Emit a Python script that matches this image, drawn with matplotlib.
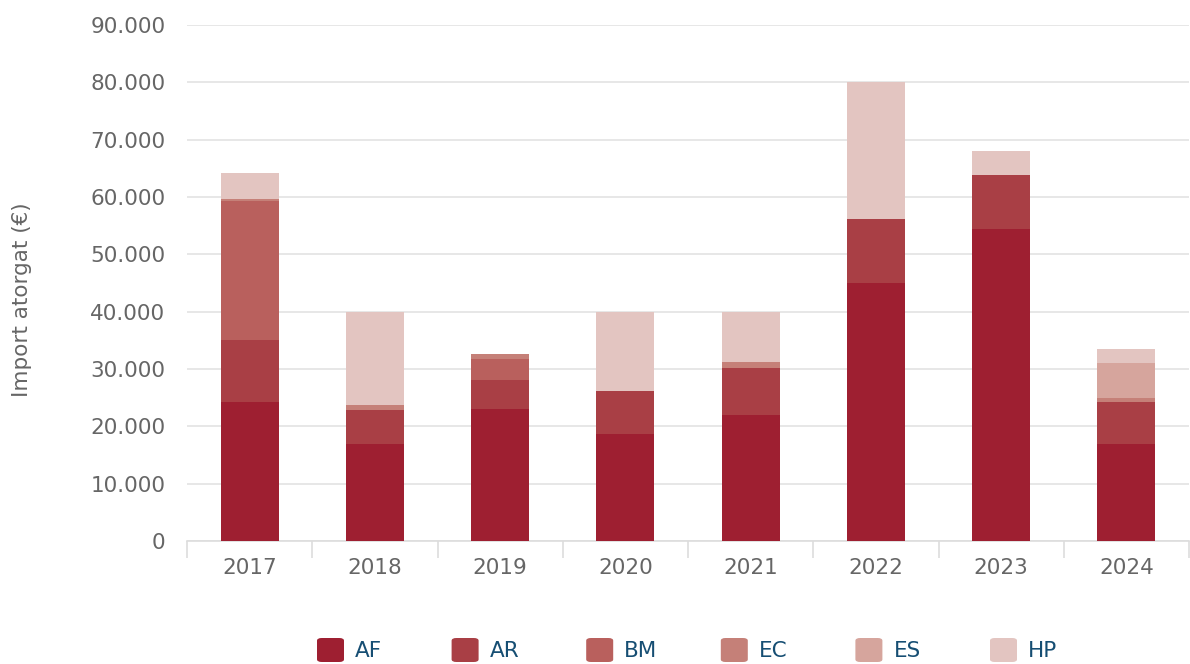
import matplotlib
matplotlib.use('Agg')
import matplotlib.pyplot as plt
from matplotlib.patches import FancyBboxPatch
from matplotlib.ticker import FuncFormatter
import numpy as np

# dades
anys = ['2017', '2018', '2019', '2020', '2021', '2022', '2023', '2024']
series = ['AF', 'AR', 'BM', 'EC', 'ES', 'HP']
AF = [24200, 17000, 23000, 18700, 22000, 45000, 54400, 16900]
AR = [10800, 5800, 5100, 7500, 8200, 11200, 9400, 7300]
BM = [24300, 0, 3700, 0, 0, 0, 0, 0]
EC = [400, 1000, 800, 0, 1000, 0, 0, 700]
ES = [0, 0, 0, 0, 0, 0, 0, 6100]
HP = [4500, 16200, 0, 13800, 8800, 23800, 4200, 2500]
colors = ['#9e1f31', '#a93f45', '#b9605d', '#c58078', '#d6a59d', '#e3c5c1']

plt.rcParams['font.family'] = ['DejaVu Sans']
fig = plt.figure(figsize=(11.9, 6.64), dpi=100)
ax = fig.add_axes([187 / 1190, 123 / 664, 1002 / 1190, 516 / 664])

x = np.arange(len(anys))
bottom = np.zeros(len(anys))
for name, vals, c in zip(series, [AF, AR, BM, EC, ES, HP], colors):
    ax.bar(x, vals, width=0.465, bottom=bottom, color=c, zorder=3, linewidth=0)
    bottom += np.array(vals)

ax.set_xlim(-0.5, len(anys) - 0.5)
ax.set_ylim(0, 90000)
ax.set_yticks(np.arange(0, 90001, 10000))
ax.yaxis.set_major_formatter(FuncFormatter(lambda v, p: f'{int(v):,}'.replace(',', '.')))
ax.grid(axis='y', color='#e3e3e3', linewidth=1.2, zorder=0)
ax.tick_params(axis='y', length=0, pad=15.5, labelsize=15.5, labelcolor='#666666')

ax.set_xticks(x)
ax.set_xticklabels(anys)
ax.set_xticks(np.arange(-0.5, len(anys)), minor=True)
ax.tick_params(axis='x', which='major', length=0, pad=12, labelsize=15.5, labelcolor='#666666')
ax.tick_params(axis='x', which='minor', length=12, color='#dddddd', width=1.2)

for s in ['top', 'right', 'left']:
    ax.spines[s].set_visible(False)
ax.spines['bottom'].set_color('#dddddd')
ax.spines['bottom'].set_linewidth(1.2)

fig.text(22 / 1190, 1 - 300 / 664, 'Import atorgat (€)', rotation=90, ha='center', va='center',
         fontsize=15.5, color='#666666')

# llegenda
for i, (name, c) in enumerate(zip(series, colors)):
    x0 = 317 + i * 134.6
    fig.add_artist(FancyBboxPatch((x0 / 1190, 1 - 662 / 664), 27 / 1190, 24 / 664,
                                  boxstyle='round,pad=0,rounding_size=0.004',
                                  transform=fig.transFigure, color=c, linewidth=0))
    fig.text((x0 + 38) / 1190, 1 - 651 / 664, name, ha='left', va='center',
             fontsize=15.5, color='#164e73')

fig.savefig('out.png', dpi=100)
